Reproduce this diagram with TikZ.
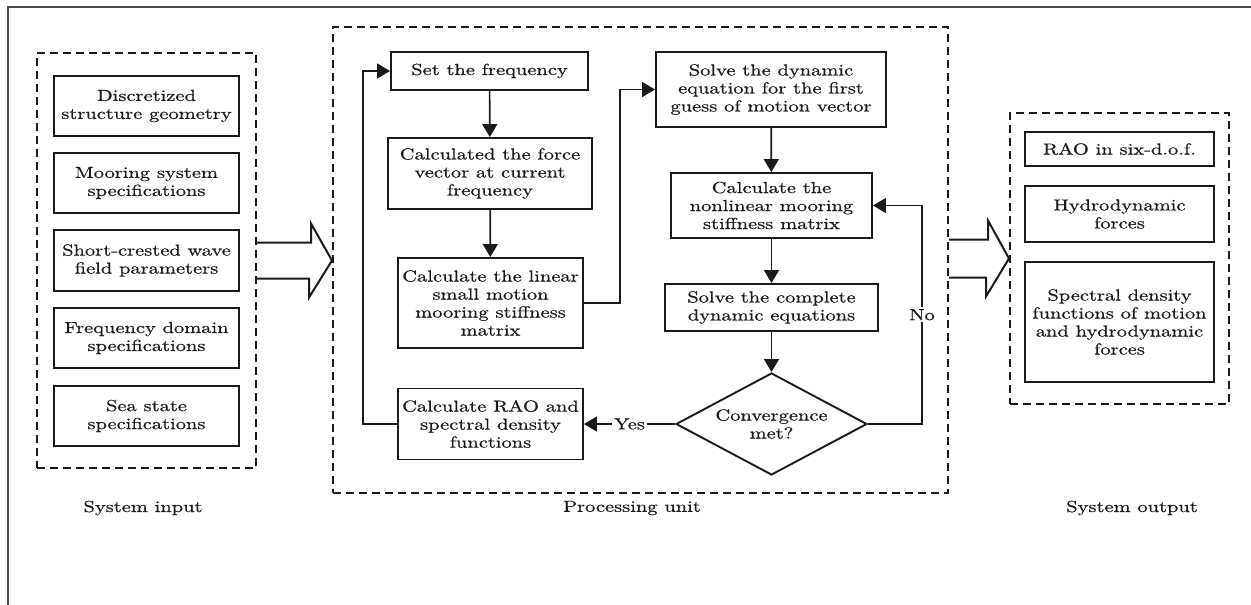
\documentclass[tikz,border=0pt]{standalone}
\usepackage{fontspec}
\setmainfont{lmroman10-regular.otf}[FakeStretch=1.28,FakeBold=0.6]
\usetikzlibrary{arrows.meta,shapes.geometric,calc}
\definecolor{ink}{HTML}{1A1A1A}
\begin{document}
\begin{tikzpicture}[x=1pt,y=-1pt,
  font=\fontsize{16}{18}\selectfont, color=ink,
  box/.style={draw=ink, line width=1.9pt, align=center, inner sep=0pt},
  group/.style={draw=ink, line width=2pt, dash pattern=on 8pt off 5pt, inner sep=0pt},
  arr/.style={draw=ink, line width=1.7pt, -{Triangle[length=13pt,width=15pt]}},
  bigarr/.style={draw=ink, line width=2pt, line join=miter},
  lab/.style={fill=white, inner sep=2pt}]
\useasboundingbox (0,0) rectangle (1251,605);
% outer frame
\draw[line width=1.6pt, draw=black!70] (8,605) -- (8,7) -- (1251,7);

% groups
\node[group, minimum width=219, minimum height=415] (inbox) at (146.5,260.5) {};
\node[group, minimum width=615, minimum height=466] (mid) at (640.5,260) {};
\node[group, minimum width=219, minimum height=291] (outbox) at (1119.5,258.5) {};

% inputs
\node[box, minimum width=185, minimum height=60] (in1) at (146.5,106) {Discretized\\structure geometry};
\node[box, minimum width=185, minimum height=60] (in2) at (146.5,183) {Mooring system\\specifications};
\node[box, minimum width=185, minimum height=61] (in3) at (146.5,260.5) {Short-crested wave\\field parameters};
\node[box, minimum width=185, minimum height=60] (in4) at (146.5,338) {Frequency domain\\specifications};
\node[box, minimum width=185, minimum height=60] (in5) at (146.5,416) {Sea state\\specifications};

% processing
\node[box, minimum width=197, minimum height=38] (freq) at (489.5,71) {Set the frequency};
\node[box, minimum width=204, minimum height=71] (force) at (490,173.5) {Calculated the force\\vector at current\\frequency};
\node[box, minimum width=185, minimum height=90] (linear) at (490.5,303) {Calculate the linear\\small motion\\mooring stiffness\\matrix};
\node[box, minimum width=185, minimum height=71] (rao) at (490.5,424) {Calculate RAO and\\spectral density\\functions};
\node[box, minimum width=230, minimum height=75] (solve1) at (771,89.5) {Solve the dynamic\\equation for the first\\guess of motion vector};
\node[box, minimum width=201, minimum height=65] (nonlin) at (771.5,205.5) {Calculate the\\nonlinear mooring\\stiffness matrix};
\node[box, minimum width=213, minimum height=47] (solve2) at (771.5,307.5) {Solve the complete\\dynamic equations};
\node[box, diamond, aspect=1.87, minimum width=191, minimum height=102] (dia) at (771.5,424) {Convergence\\met?};

% outputs
\node[box, minimum width=189, minimum height=34] (out1) at (1119.5,149) {RAO in six-d.o.f.};
\node[box, minimum width=189, minimum height=56] (out2) at (1119.5,214) {Hydrodynamic\\forces};
\node[box, minimum width=189, minimum height=120] (out3) at (1119.5,322) {Spectral density\\functions of motion\\and hydrodynamic\\forces};

% labels
\node (lin) at (143,508) {System input};
\node (lmid) at (632,508) {Processing unit};
\node (lout) at (1132,508) {System output};

% flow arrows
\draw[arr] (freq) -- (force);
\draw[arr] (force) -- (linear);
\draw[arr] (solve1) -- (nonlin);
\draw[arr] (nonlin) -- (solve2);
\draw[arr] (solve2) -- (dia);
\draw[arr] (linear.east) -- ++(36,0) |- (solve1.west);
\draw[arr] (rao.west) -- ++(-34,0) |- (freq.west);
\draw[arr] (dia.east) -- ++(54,0) |- node[pos=0.25, lab] {No} (nonlin.east);
\draw[arr] (dia.west) -- node[lab] {Yes} (rao.east);

% big hollow arrows
\draw[bigarr] ($(inbox.east)+(0,-18)$) -- ++(54,0) -- ++(0,-19) -- (inbox.east -| mid.west) -- ++(-23,37) -- ++(0,-19) -- ($(inbox.east)+(0,18)$);
\draw[bigarr] ($(mid.east |- outbox.west)+(0,-19)$) -- ++(39,0) -- ++(0,-19) -- (outbox.west) -- ++(-23,38) -- ++(0,-19) -- ($(mid.east |- outbox.west)+(0,19)$);
\end{tikzpicture}
\end{document}
